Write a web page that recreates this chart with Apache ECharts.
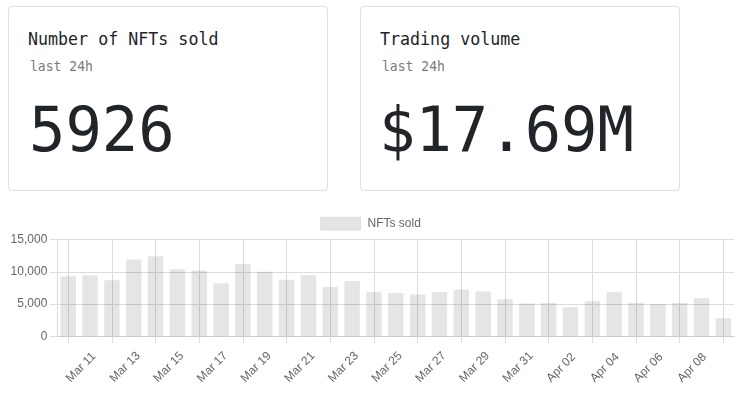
<!DOCTYPE html>
<html>
<head>
<meta charset="utf-8">
<script src="https://cdn.jsdelivr.net/npm/echarts@6/dist/echarts.min.js"></script>
<style>
    body { margin: 0; background: #fff; width: 746px; height: 420px; overflow: hidden; position: relative; }
    .card { position: absolute; top: 6px; width: 318px; height: 183px; border: 1px solid #dfdfdf; border-radius: 4px; box-sizing: content-box; }
    .txt { position: absolute; font-family: "DejaVu Sans Mono", monospace; white-space: nowrap; transform-origin: left top; color: #212529; }
    .title { font-size: 18.5px; line-height: 18.5px; transform: scaleX(0.9); }
    .sub { font-size: 14.5px; line-height: 14.5px; transform: scaleX(0.9); color: #7a7a7a; }
    .big { font-size: 62.7px; line-height: 62.7px; transform: scaleX(0.965); }
    #main { position: absolute; left: 0; top: 200px; width: 746px; height: 220px; }
</style>
</head>
<body>
<div class="card" style="left:8px"></div>
<div class="card" style="left:360px"></div>

<div class="txt title" style="left:27.5px; top:30.3px">Number of NFTs sold</div>
<div class="txt sub" style="left:30px; top:58.7px">last 24h</div>
<div class="txt big" style="left:29px; top:98.7px">5926</div>

<div class="txt title" style="left:380px; top:30.3px">Trading volume</div>
<div class="txt sub" style="left:382px; top:58.7px">last 24h</div>
<div class="txt big" style="left:379px; top:98.7px">$17.69M</div>

<div id="main"></div>

<script type="text/javascript">
    // 每天的日期
    var days = ['Mar 11', 'Mar 12', 'Mar 13', 'Mar 14', 'Mar 15', 'Mar 16', 'Mar 17', 'Mar 18',
        'Mar 19', 'Mar 20', 'Mar 21', 'Mar 22', 'Mar 23', 'Mar 24', 'Mar 25', 'Mar 26',
        'Mar 27', 'Mar 28', 'Mar 29', 'Mar 30', 'Mar 31', 'Apr 01', 'Apr 02', 'Apr 03',
        'Apr 04', 'Apr 05', 'Apr 06', 'Apr 07', 'Apr 08', 'Apr 09', 'Apr 10'];
    // 每天卖出的 NFT 数量
    var nftsSold = [9300, 9450, 8700, 11900, 12400, 10400, 10200, 8200, 11200, 10000,
        8750, 9450, 7650, 8550, 6850, 6700, 6500, 6850, 7250, 6950,
        5750, 5100, 5200, 4500, 5450, 6850, 5200, 5000, 5150, 5926, 2800];
    var yTicks = [0, 5000, 10000, 15000];

    var gridColor = '#dcdcdc';
    var myChart = echarts.init(document.getElementById('main'));
    var option = {
        animation: false,
        textStyle: { fontFamily: '"Liberation Sans", Arial, sans-serif' },
        legend: {
            data: ['NFTs sold'],
            left: 315,
            top: 11.7,
            itemWidth: 40,
            itemHeight: 13,
            icon: 'rect',
            itemStyle: { color: 'rgba(0,0,0,0.1)', borderColor: 'rgba(0,0,0,0.08)', borderWidth: 1 },
            textStyle: { color: '#666', fontSize: 12, padding: [0, 0, 0, 2] }
        },
        grid: {
            left: 57.3,
            right: 11.7,
            top: 39.5,
            height: 96.8
        },
        xAxis: {
            type: 'category',
            data: days,
            boundaryGap: true,
            axisLine: { show: true, lineStyle: { color: '#cfcfcf', width: 1 } },
            axisTick: { show: true, alignWithLabel: true, interval: 1, length: 7, lineStyle: { color: gridColor } },
            splitLine: { show: true, alignWithLabel: true, interval: 1, lineStyle: { color: gridColor } },
            axisLabel: {
                interval: function (idx) { return idx % 2 === 0 && idx < days.length - 1; },
                rotate: 45,
                align: 'left',
                verticalAlign: 'middle',
                margin: 44,
                color: '#666',
                fontSize: 12
            }
        },
        yAxis: {
            type: 'value',
            min: yTicks[0],
            max: yTicks[yTicks.length - 1],
            interval: yTicks[1] - yTicks[0],
            axisLine: { show: true, lineStyle: { color: gridColor } },
            axisTick: { show: true, length: 7, lineStyle: { color: gridColor } },
            splitLine: { show: true, lineStyle: { color: gridColor } },
            axisLabel: {
                margin: 10,
                color: '#666',
                fontSize: 12,
                formatter: function (v) { return v.toLocaleString('en-US'); }
            }
        },
        series: [
            {
                name: 'NFTs sold',
                type: 'bar',
                barWidth: '71%',
                itemStyle: { color: 'rgba(0,0,0,0.1)' },
                data: nftsSold
            }
        ]
    };

    myChart.setOption(option);
</script>
</body>
</html>
